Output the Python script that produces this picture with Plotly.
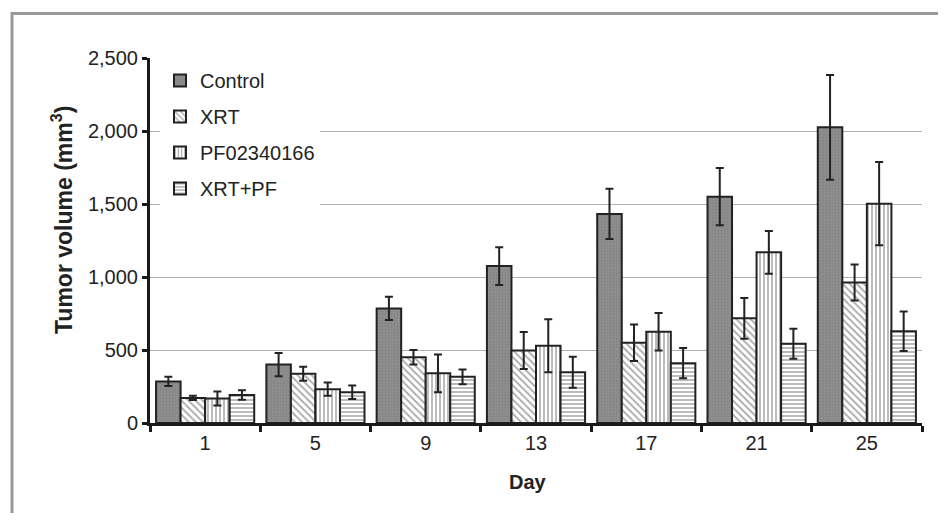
import plotly.graph_objects as go

days = ["1", "5", "9", "13", "17", "21", "25"]
series_names = ["Control", "XRT", "PF02340166", "XRT+PF"]
control = [285, 400, 785, 1075, 1432, 1550, 2025]
control_err = [32, 80, 80, 129, 172, 196, 359]
xrt = [172, 338, 450, 497, 550, 717, 962]
xrt_err = [15, 48, 50, 127, 125, 140, 123]
pf = [168, 232, 340, 529, 625, 1169, 1502]
pf_err = [48, 45, 130, 182, 128, 146, 285]
xrtpf = [192, 210, 316, 347, 410, 543, 628]
xrtpf_err = [32, 46, 50, 106, 103, 103, 135]
y_ticks = [0, 500, 1000, 1500, 2000, 2500]
y_tick_labels = ["0", "500", "1,000", "1,500", "2,000", "2,500"]

values = [control, xrt, pf, xrtpf]
errors = [control_err, xrt_err, pf_err, xrtpf_err]
styles = [
    dict(bg="#8e8e8e", fg="#777777", shape=".", size=3, sol=0.3),
    dict(bg="white", fg="#555555", shape="\\", size=5, sol=0.35),
    dict(bg="white", fg="#555555", shape="|", size=4, sol=0.4),
    dict(bg="white", fg="#555555", shape="-", size=4, sol=0.4),
]

FONT = "Arial, Liberation Sans, sans-serif"
OFF = 8  # page body margin

fig = go.Figure()
for name, v, e, s in zip(series_names, values, errors, styles):
    fig.add_trace(go.Bar(
        x=days, y=v, name=name, legendgroup=name,
        marker=dict(color=s["bg"], line=dict(color="#222222", width=2),
                    pattern=dict(shape=s["shape"], fgcolor=s["fg"], bgcolor=s["bg"],
                                 size=s["size"], solidity=s["sol"])),
        error_y=dict(type="data", array=e, visible=True, color="#222222",
                     thickness=2, width=4),
    ))

# plot area in figure coords
L, T, PW, PH = 150 - OFF, 58 - OFF, 772, 365
W, H = 946 - 2 * OFF, 521 - 2 * OFF

def px(x_page):
    return (x_page - OFF - L) / PW

def py(y_page):
    return (T + PH - (y_page - OFF)) / PH

fig.update_layout(
    width=W, height=H,
    margin=dict(l=L, r=W - L - PW, t=T, b=H - T - PH),
    paper_bgcolor="white", plot_bgcolor="white",
    barmode="group", bargap=0.11, bargroupgap=0,
    font=dict(family=FONT, size=20, color="#222222"),
    showlegend=True,
    legend=dict(x=px(160), y=py(61), xanchor="left", yanchor="top",
                bgcolor="white", font=dict(size=20, family=FONT, color="#222222"),
                tracegroupgap=7, traceorder="grouped"),
    xaxis=dict(type="category",
               showline=True, linecolor="#1a1a1a", linewidth=3,
               ticks="outside", tickson="boundaries", ticklen=6, tickwidth=3,
               tickcolor="#1a1a1a", tickfont=dict(size=20), showgrid=False),
    yaxis=dict(range=[0, 2500], tickvals=y_ticks, ticktext=y_tick_labels,
               showline=True, linecolor="#1a1a1a", linewidth=3,
               ticks="outside", ticklen=5, tickwidth=3, tickcolor="#1a1a1a",
               tickfont=dict(size=20), showgrid=True, gridcolor="#b0b0b0", gridwidth=1,
               zeroline=False),
    annotations=[
        dict(text="<b>Tumor volume (mm<sup>3</sup>)</b>", textangle=-90,
             xref="paper", yref="paper", x=px(62), y=py(220),
             xanchor="center", yanchor="middle", showarrow=False,
             font=dict(size=23, family=FONT, color="#222222")),
        dict(text="<b>Day</b>", xref="paper", yref="paper", x=px(528), y=py(482),
             xanchor="center", yanchor="middle", showarrow=False,
             font=dict(size=20, family=FONT, color="#222222")),
    ],
    shapes=[
        dict(type="line", xref="paper", yref="paper", x0=px(11), x1=px(960),
             y0=py(13.5), y1=py(13.5), line=dict(color="#999999", width=3)),
        dict(type="line", xref="paper", yref="paper", x0=px(12), x1=px(12),
             y0=py(12), y1=py(540), line=dict(color="#999999", width=3)),
    ],
)

fig.write_html("out.html")
